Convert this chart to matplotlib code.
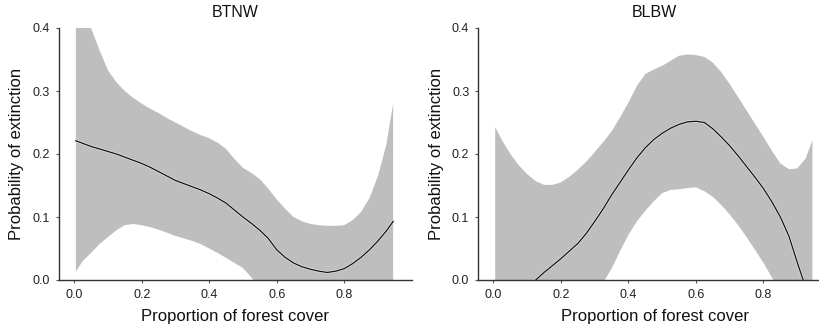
import matplotlib
matplotlib.use("Agg")
import matplotlib.pyplot as plt
import matplotlib.patheffects as pe

plt.rcParams['font.family'] = ['Liberation Sans', 'DejaVu Sans']

titles = ["BTNW", "BLBW"]
xlabel = "Proportion of forest cover"
ylabel = "Probability of extinction"
xticks = [0.0, 0.2, 0.4, 0.6, 0.8]
yticks = [0.0, 0.1, 0.2, 0.3, 0.4]

x_grid = [0.005, 0.025, 0.05, 0.075, 0.1, 0.125, 0.15, 0.175, 0.2, 0.225,
          0.25, 0.275, 0.3, 0.325, 0.35, 0.375, 0.4, 0.425, 0.45, 0.475,
          0.5, 0.525, 0.55, 0.575, 0.6, 0.625, 0.65, 0.675, 0.7, 0.725,
          0.75, 0.775, 0.8, 0.825, 0.85, 0.875, 0.9, 0.925, 0.945]

# BTNW
btnw_mean = [0.221, 0.217, 0.212, 0.208, 0.204, 0.200, 0.195, 0.190, 0.185, 0.179,
             0.172, 0.165, 0.158, 0.153, 0.148, 0.143, 0.137, 0.130, 0.122, 0.111,
             0.100, 0.090, 0.079, 0.066, 0.048, 0.036, 0.027, 0.021, 0.017, 0.014,
             0.012, 0.014, 0.018, 0.026, 0.036, 0.048, 0.062, 0.078, 0.093]
btnw_upper = [0.470, 0.440, 0.400, 0.365, 0.333, 0.314, 0.300, 0.289, 0.280, 0.272,
              0.265, 0.257, 0.250, 0.243, 0.236, 0.230, 0.225, 0.218, 0.208, 0.192,
              0.178, 0.170, 0.160, 0.145, 0.128, 0.113, 0.100, 0.093, 0.089, 0.087,
              0.086, 0.086, 0.087, 0.095, 0.108, 0.130, 0.165, 0.215, 0.280]
btnw_lower = [0.013, 0.030, 0.043, 0.057, 0.068, 0.079, 0.087, 0.089, 0.087, 0.084,
              0.080, 0.075, 0.070, 0.066, 0.062, 0.057, 0.050, 0.043, 0.035, 0.027,
              0.019, 0.004, -0.012, -0.025, -0.040, -0.050, -0.060, -0.065, -0.070, -0.072,
              -0.075, -0.073, -0.070, -0.065, -0.060, -0.055, -0.050, -0.050, -0.050]

# BLBW
blbw_mean = [-0.070, -0.060, -0.045, -0.030, -0.013, 0.000, 0.012, 0.023, 0.034, 0.046,
             0.058, 0.074, 0.093, 0.113, 0.135, 0.155, 0.175, 0.194, 0.210, 0.223,
             0.233, 0.241, 0.247, 0.251, 0.252, 0.250, 0.240, 0.227, 0.213, 0.197,
             0.180, 0.163, 0.145, 0.124, 0.100, 0.070, 0.028, -0.012, -0.040]
blbw_upper = [0.243, 0.222, 0.200, 0.182, 0.168, 0.157, 0.151, 0.151, 0.155, 0.164,
              0.175, 0.188, 0.203, 0.219, 0.236, 0.258, 0.282, 0.308, 0.327, 0.334,
              0.340, 0.348, 0.356, 0.358, 0.357, 0.354, 0.345, 0.330, 0.311, 0.290,
              0.269, 0.248, 0.227, 0.205, 0.185, 0.176, 0.177, 0.193, 0.222]
blbw_lower = [-0.250, -0.230, -0.200, -0.180, -0.160, -0.140, -0.120, -0.105, -0.090, -0.075,
              -0.060, -0.043, -0.025, -0.004, 0.018, 0.046, 0.072, 0.093, 0.110, 0.125,
              0.138, 0.143, 0.144, 0.146, 0.147, 0.141, 0.132, 0.119, 0.104, 0.087,
              0.068, 0.048, 0.027, 0.004, -0.020, -0.040, -0.060, -0.080, -0.100]

panels = [
    (titles[0], btnw_mean, btnw_lower, btnw_upper),
    (titles[1], blbw_mean, blbw_lower, blbw_upper),
]

fig = plt.figure(figsize=(8.19, 3.28), dpi=100)
W, H = 819.0, 328.0
positions = [
    [59 / W, 48 / H, 352.7 / W, 252 / H],
    [478.3 / W, 48 / H, 352.7 / W, 252 / H],
]

for pos, (title, mean, lower, upper) in zip(positions, panels):
    ax = fig.add_axes(pos)
    ax.fill_between(x_grid, lower, upper, color="#bebebe", linewidth=0)
    ax.plot(x_grid, mean, color="#111111", linewidth=0.9,
            path_effects=[pe.Stroke(linewidth=1.8, foreground="#e6e6e6"), pe.Normal()])
    ax.set_xlim(-0.045, 1.0)
    ax.set_ylim(0, 0.4)
    ax.set_xticks(xticks)
    ax.set_yticks(yticks)
    ax.set_xticklabels([f"{t:.1f}" for t in xticks])
    ax.set_yticklabels([f"{t:.1f}" for t in yticks])
    for s in ["top", "right"]:
        ax.spines[s].set_visible(False)
    for s in ["left", "bottom"]:
        ax.spines[s].set_color("#333333")
        ax.spines[s].set_linewidth(1.0)
    ax.tick_params(axis="both", length=2.5, width=0.8, color="#555555",
                   labelsize=9, labelcolor="#222222", pad=4)
    ax.set_title(title, fontsize=11.5, color="#111111", pad=8)
    ax.set_xlabel(xlabel, fontsize=12, color="#111111", labelpad=6)
    ax.set_ylabel(ylabel, fontsize=12, color="#111111", labelpad=6)

fig.savefig("out.png", dpi=100)
